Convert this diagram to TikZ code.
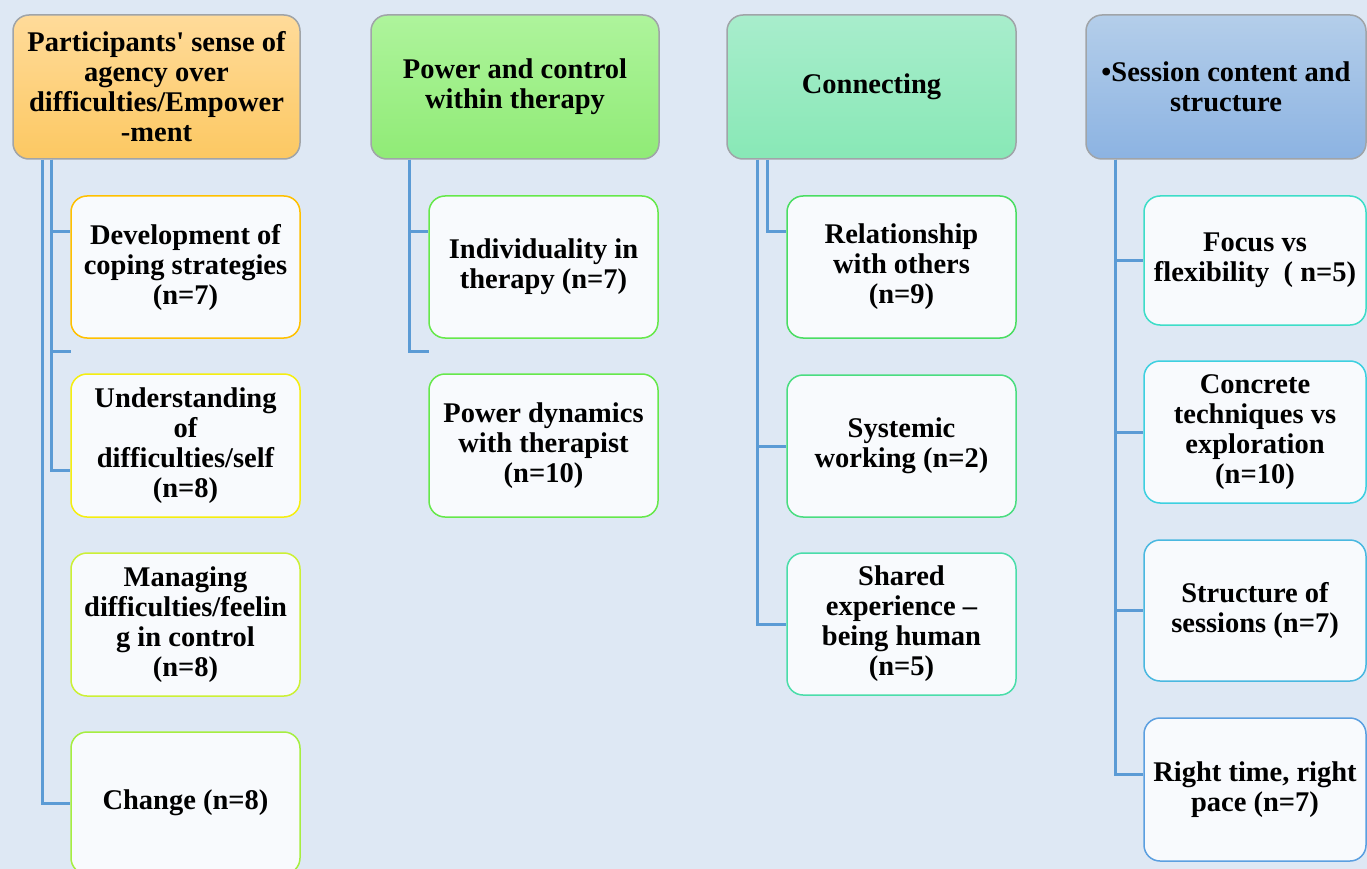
\documentclass[tikz,border=0pt]{standalone}
\usepackage{fontspec}
\setmainfont{Liberation Serif}
\definecolor{bg}{HTML}{DEE8F4}
\definecolor{link}{HTML}{5B9BD5}
\definecolor{childfill}{HTML}{F8FAFD}
\definecolor{headline}{HTML}{A0A4A8}
\definecolor{h1top}{HTML}{FFDB9A}
\definecolor{h1bot}{HTML}{FCC862}
\definecolor{h2top}{HTML}{AEF49C}
\definecolor{h2bot}{HTML}{90EB76}
\definecolor{h3top}{HTML}{A8EDCC}
\definecolor{h3bot}{HTML}{88E8B6}
\definecolor{h4top}{HTML}{B4CEEA}
\definecolor{h4bot}{HTML}{8CB3E2}
\definecolor{b11}{HTML}{FFC000}
\definecolor{b12}{HTML}{F5EE10}
\definecolor{b13}{HTML}{CCF035}
\definecolor{b14}{HTML}{A6EE40}
\definecolor{b2}{HTML}{66E84A}
\definecolor{b31}{HTML}{4ADD62}
\definecolor{b32}{HTML}{4ADD80}
\definecolor{b33}{HTML}{4ADDAA}
\definecolor{b41}{HTML}{3DDDC8}
\definecolor{b42}{HTML}{3DD0E0}
\definecolor{b43}{HTML}{4AB8E0}
\definecolor{b44}{HTML}{5B9FE0}
\tikzset{
  txt/.style={align=center, text=black, font=\bfseries\fontsize{28.5}{30}\selectfont, inner sep=2pt},
  headbox/.style={txt, rectangle, rounded corners=16pt, draw=headline, line width=1.5pt, minimum height=144pt},
  childbox/.style={txt, rectangle, rounded corners=16pt, fill=childfill, line width=1.5pt, minimum width=229pt, minimum height=142pt},
  conn/.style={draw=link, line width=3pt}
}
\begin{document}
\begin{tikzpicture}[x=1pt,y=-1pt]
\useasboundingbox (0,0) rectangle (1367,869);
\fill[bg] (0,0) rectangle (1367,869);

% heads
\node[headbox, top color=h1top, bottom color=h1bot, minimum width=287pt] (h1) at (156.5,87)
  {Participants\textquotesingle{} sense of\\agency over\\difficulties/Empower\\-ment};
\node[headbox, top color=h2top, bottom color=h2bot, minimum width=288pt] (h2) at (515,87)
  {Power and control\\within therapy};
\node[headbox, top color=h3top, bottom color=h3bot, minimum width=289pt] (h3) at (871.5,87)
  {Connecting};
\node[headbox, top color=h4top, bottom color=h4bot, minimum width=280pt] (h4) at (1226,87)
  {\textbullet Session content and\\structure};

% column 1
\node[childbox, draw=b11] (c11) at (185.5,267) {Development of\\coping strategies\\(n=7)};
\node[childbox, draw=b12, minimum height=143pt] (c12) at (185.5,445.5) {Understanding\\of\\difficulties/self\\(n=8)};
\node[childbox, draw=b13, minimum height=143pt] (c13) at (185.5,624.5) {Managing\\difficulties/feelin\\g in control\\(n=8)};
\node[childbox, draw=b14] (c14) at (185.5,803) {Change (n=8)};

% column 2
\node[childbox, draw=b2] (c21) at (543.5,267) {Individuality in\\therapy (n=7)};
\node[childbox, draw=b2, minimum height=143pt] (c22) at (543.5,445.5) {Power dynamics\\with therapist\\(n=10)};

% column 3
\node[childbox, draw=b31] (c31) at (901.5,267) {Relationship\\with others\\(n=9)};
\node[childbox, draw=b32] (c32) at (901.5,446) {Systemic\\working (n=2)};
\node[childbox, draw=b33] (c33) at (901.5,624) {Shared\\experience --\\being human\\(n=5)};

% column 4
\node[childbox, draw=b41, minimum width=222pt, minimum height=129pt] (c41) at (1255,260.5) {Focus vs\\flexibility~~( n=5)};
\node[childbox, draw=b42, minimum width=222pt] (c42) at (1255,432) {Concrete\\techniques vs\\exploration\\(n=10)};
\node[childbox, draw=b43, minimum width=222pt, minimum height=141pt] (c43) at (1255,610.5) {Structure of\\sessions (n=7)};
\node[childbox, draw=b44, minimum width=222pt, minimum height=143pt] (c44) at (1255,789.5) {Right time, right\\pace (n=7)};

% stub ends
\coordinate (s1) at (71,351);
\coordinate (s2) at (429,351);

% connectors column 1
\draw[conn] ([xshift=39pt]h1.south west) |- ([yshift=36pt]c11.west);
\draw[conn] ([xshift=39pt]h1.south west) |- (s1);
\draw[conn] ([xshift=39pt]h1.south west) |- ([yshift=-24.5pt]c12.west);
\draw[conn] ([xshift=30pt]h1.south west) |- (c14.west);
% column 2
\draw[conn] ([xshift=39pt]h2.south west) |- ([yshift=36pt]c21.west);
\draw[conn] ([xshift=39pt]h2.south west) |- (s2);
% column 3
\draw[conn] ([xshift=41pt]h3.south west) |- ([yshift=36pt]c31.west);
\draw[conn] ([xshift=31pt]h3.south west) |- (c32.west);
\draw[conn] ([xshift=31pt]h3.south west) |- (c33.west);
% column 4
\draw[conn] ([xshift=30pt]h4.south west) |- (c41.west);
\draw[conn] ([xshift=30pt]h4.south west) |- (c42.west);
\draw[conn] ([xshift=30pt]h4.south west) |- (c43.west);
\draw[conn] ([xshift=30pt]h4.south west) |- ([yshift=15.5pt]c44.west);
\end{tikzpicture}
\end{document}
